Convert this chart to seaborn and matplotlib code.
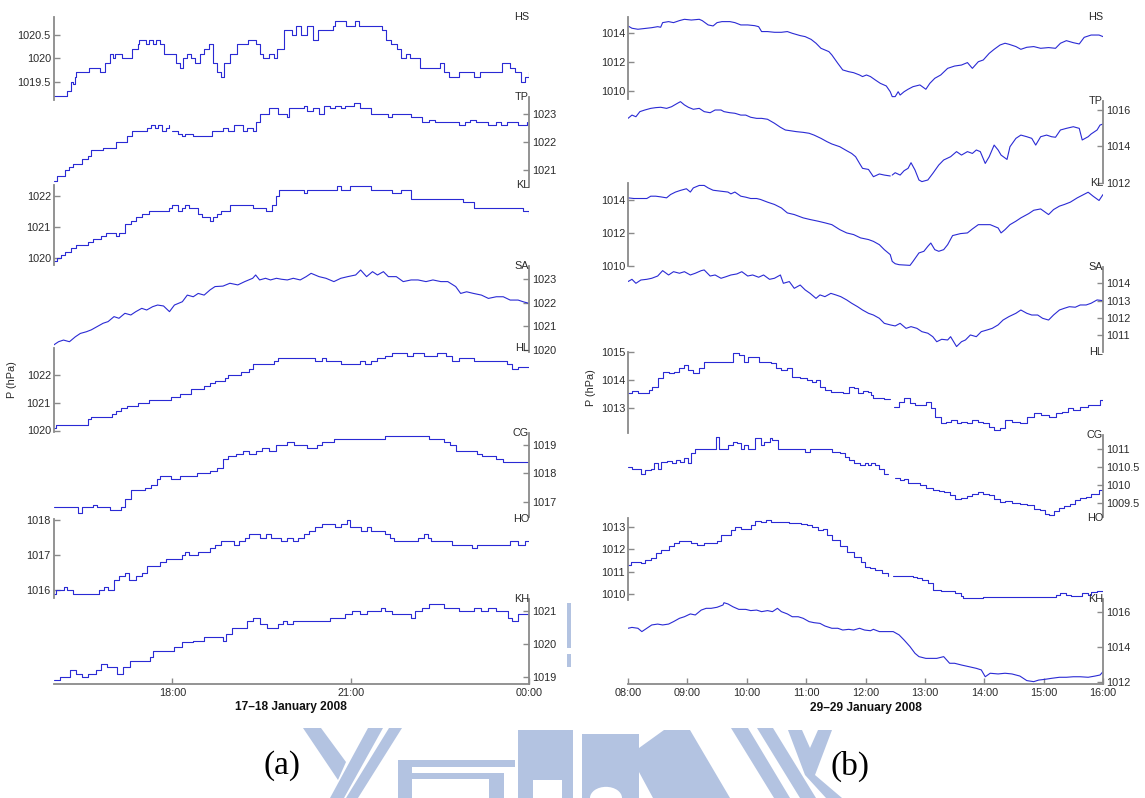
import matplotlib
matplotlib.use("Agg")
import numpy as np
import matplotlib.pyplot as plt
from matplotlib.patches import Polygon, Circle
import seaborn as sns

# ---------------------------------------------------------------------------
# Station pressure records (hPa).  Times are minutes after the start of each
# 8-hour window: (a) 16:00 17 Jan -> 00:00 18 Jan, (b) 08:00 -> 16:00 29 Jan.
# ---------------------------------------------------------------------------
STATIONS = ["HS", "TP", "KL", "SA", "HL", "CG", "HO", "KH"]

# ----- (a) 17-18 January 2008 -----
a_HS_t = [0,12,14,18,20,22,23,35,36,46,47,52,57,60,62,66,69,77,79,85,86,91,93,96,100,103,107,111,120,124,128,131,135,139,143,148,152,157,161,165,169,172,178,185,193,196,204,208,211,217,223,226,233,241,245,250,256,262,267,275,278,282,284,293,295,302,304,308,329,332,336,341,347,351,356,360,364,370,375,385,390,394,399,409,416,424,431,439,446,453,461,466,472,476,480]
a_HS_p = [1019.2,1019.2,1019.3,1019.5,1019.45,1019.6,1019.7,1019.7,1019.8,1019.8,1019.7,1019.9,1020.1,1020.0,1020.1,1020.1,1020.0,1020.0,1020.2,1020.3,1020.4,1020.4,1020.3,1020.4,1020.3,1020.4,1020.3,1020.1,1020.1,1019.9,1019.8,1020.0,1020.1,1020.0,1019.9,1020.1,1020.2,1020.3,1019.9,1019.7,1019.6,1019.9,1020.1,1020.3,1020.3,1020.4,1020.3,1020.1,1020.0,1020.1,1020.0,1020.2,1020.6,1020.5,1020.7,1020.5,1020.7,1020.4,1020.6,1020.6,1020.6,1020.7,1020.8,1020.8,1020.7,1020.7,1020.8,1020.7,1020.7,1020.6,1020.4,1020.3,1020.2,1020.0,1020.1,1020.0,1020.0,1019.8,1019.8,1019.8,1019.9,1019.7,1019.6,1019.7,1019.7,1019.6,1019.7,1019.7,1019.7,1019.9,1019.8,1019.7,1019.5,1019.6,1019.7]

a_TP_t = [0,3,7,12,16,20,25,29,35,38,44,50,55,59,63,68,74,79,85,91,94,98,102,105,109,113,117,120,126,130,133,141,145,156,160,167,171,176,182,187,191,195,201,204,208,212,217,221,227,232,236,238,245,253,256,262,268,273,279,284,290,294,299,303,309,314,320,324,329,335,338,342,350,357,361,368,372,379,385,392,398,404,409,415,420,426,432,439,447,452,458,463,469,474,478]
a_TP_p = [1020.6,1020.8,1020.8,1021.0,1021.1,1021.2,1021.2,1021.4,1021.5,1021.7,1021.7,1021.8,1021.8,1021.8,1022.0,1022.0,1022.2,1022.4,1022.4,1022.4,1022.5,1022.6,1022.5,1022.6,1022.4,1022.5,1022.6,1022.4,1022.3,1022.2,1022.3,1022.2,1022.2,1022.2,1022.4,1022.4,1022.5,1022.4,1022.6,1022.6,1022.4,1022.5,1022.4,1022.7,1023.0,1023.0,1023.2,1023.2,1023.0,1023.0,1022.9,1023.2,1023.2,1023.3,1023.1,1023.2,1023.0,1023.3,1023.2,1023.3,1023.2,1023.3,1023.3,1023.4,1023.2,1023.2,1023.0,1023.0,1023.0,1023.0,1022.9,1023.0,1023.0,1023.0,1022.9,1022.9,1022.7,1022.8,1022.7,1022.7,1022.7,1022.7,1022.6,1022.7,1022.8,1022.7,1022.7,1022.6,1022.7,1022.6,1022.7,1022.7,1022.6,1022.6,1022.7]

a_KL_t = [0,3,7,12,18,23,29,35,40,48,53,59,63,66,72,78,83,89,96,104,111,117,120,126,130,133,137,143,146,150,156,158,161,165,169,174,178,186,193,201,208,214,217,221,225,228,242,253,256,268,283,286,290,294,299,307,312,320,324,331,338,342,351,357,361,376,383,391,398,409,413,420,424,443,458,463,469,474,480]
a_KL_p = [1019.9,1020.0,1020.1,1020.2,1020.3,1020.4,1020.4,1020.5,1020.6,1020.7,1020.8,1020.8,1020.7,1020.8,1021.1,1021.2,1021.3,1021.4,1021.5,1021.5,1021.5,1021.6,1021.7,1021.5,1021.6,1021.7,1021.6,1021.6,1021.4,1021.3,1021.3,1021.2,1021.3,1021.4,1021.5,1021.5,1021.7,1021.7,1021.7,1021.6,1021.6,1021.5,1021.5,1021.7,1022.0,1022.2,1022.2,1022.1,1022.2,1022.2,1022.2,1022.3,1022.2,1022.2,1022.3,1022.3,1022.3,1022.2,1022.2,1022.2,1022.2,1022.1,1022.2,1022.2,1021.9,1021.9,1021.9,1021.9,1021.9,1021.9,1021.8,1021.8,1021.6,1021.6,1021.6,1021.6,1021.6,1021.5,1021.4]

a_SA_t = [0,5,10,16,22,27,33,38,44,50,55,61,66,72,78,83,89,94,100,105,111,117,122,130,135,141,146,152,158,163,171,178,186,193,201,204,208,214,219,225,230,236,242,249,255,260,268,275,283,290,297,305,310,316,322,327,333,338,346,353,361,368,376,383,391,398,406,411,417,424,432,439,447,454,461,469,474,480]
a_SA_p = [1020.21,1020.35,1020.42,1020.35,1020.56,1020.70,1020.77,1020.85,1020.99,1021.13,1021.20,1021.41,1021.34,1021.55,1021.48,1021.62,1021.76,1021.69,1021.83,1021.90,1021.86,1021.62,1021.90,1022.04,1022.32,1022.25,1022.39,1022.32,1022.54,1022.68,1022.70,1022.82,1022.75,1022.89,1023.03,1023.17,1022.96,1023.03,1022.96,1023.03,1022.99,1022.96,1023.03,1022.96,1023.10,1023.24,1023.10,1023.03,1022.89,1023.03,1023.10,1023.17,1023.38,1023.10,1023.31,1023.17,1023.31,1023.10,1023.10,1022.89,1022.96,1022.96,1022.89,1022.96,1022.89,1022.89,1022.68,1022.39,1022.46,1022.39,1022.32,1022.18,1022.25,1022.25,1022.11,1022.11,1022.04,1021.97]

a_HL_t = [0,2,31,35,38,42,55,59,63,68,74,79,85,91,96,111,119,124,128,133,139,143,148,152,158,163,169,173,176,182,189,197,201,208,215,223,227,242,245,256,264,271,275,283,290,301,309,314,320,327,335,342,350,357,363,368,374,381,387,392,396,402,409,417,424,432,439,447,454,458,463,469,480]
a_HL_p = [1020.1,1020.2,1020.2,1020.4,1020.5,1020.5,1020.5,1020.6,1020.7,1020.8,1020.9,1020.9,1021.0,1021.0,1021.1,1021.1,1021.2,1021.2,1021.3,1021.3,1021.5,1021.5,1021.5,1021.6,1021.7,1021.8,1021.8,1021.9,1022.0,1022.0,1022.1,1022.2,1022.4,1022.4,1022.4,1022.5,1022.6,1022.6,1022.6,1022.6,1022.5,1022.6,1022.5,1022.5,1022.4,1022.4,1022.5,1022.4,1022.5,1022.6,1022.7,1022.8,1022.8,1022.7,1022.8,1022.8,1022.7,1022.7,1022.8,1022.8,1022.7,1022.5,1022.6,1022.6,1022.5,1022.5,1022.5,1022.5,1022.5,1022.4,1022.2,1022.3,1022.3]

a_CG_t = [0,12,14,18,22,25,29,35,40,44,51,57,63,68,72,78,83,87,92,98,104,107,113,119,122,128,133,139,145,152,158,161,165,171,176,184,191,197,204,210,214,217,225,230,236,243,251,256,262,266,271,277,283,290,299,305,312,320,327,335,342,350,357,365,372,379,387,394,400,406,413,420,428,433,439,447,454,461,469,476,480]
a_CG_p = [1016.8,1016.8,1016.8,1016.8,1016.8,1016.6,1016.8,1016.8,1016.9,1016.8,1016.8,1016.7,1016.7,1016.8,1017.1,1017.4,1017.4,1017.4,1017.5,1017.6,1017.8,1017.9,1017.9,1017.8,1017.8,1017.9,1017.9,1017.9,1018.0,1018.0,1018.1,1018.1,1018.2,1018.5,1018.6,1018.7,1018.8,1018.7,1018.8,1018.9,1018.9,1018.8,1019.0,1019.0,1019.1,1019.0,1019.0,1018.9,1018.9,1019.0,1019.1,1019.1,1019.2,1019.2,1019.2,1019.2,1019.2,1019.2,1019.2,1019.3,1019.3,1019.3,1019.3,1019.3,1019.3,1019.2,1019.2,1019.1,1019.0,1018.8,1018.8,1018.8,1018.7,1018.6,1018.6,1018.5,1018.4,1018.4,1018.4,1018.4,1018.3]

a_HO_t = [0,2,7,10,14,20,25,31,37,42,46,51,55,61,66,72,76,79,83,89,94,100,107,113,119,124,130,133,137,141,146,152,158,163,169,178,182,187,193,197,204,208,214,219,225,230,236,242,247,253,258,264,271,279,284,290,296,299,305,310,316,320,324,329,335,340,344,350,357,365,368,374,378,381,387,394,402,407,415,422,428,435,443,450,456,461,469,476,480]
a_HO_p = [1015.9,1016.0,1016.0,1016.1,1016.0,1015.9,1015.9,1015.9,1015.9,1015.9,1016.0,1016.1,1016.0,1016.3,1016.4,1016.5,1016.3,1016.3,1016.4,1016.5,1016.7,1016.7,1016.8,1016.9,1016.9,1016.9,1017.0,1017.1,1017.0,1017.0,1017.1,1017.1,1017.2,1017.3,1017.4,1017.4,1017.3,1017.4,1017.5,1017.6,1017.6,1017.5,1017.6,1017.5,1017.5,1017.4,1017.5,1017.4,1017.5,1017.6,1017.7,1017.8,1017.9,1017.9,1017.8,1017.9,1018.0,1017.8,1017.8,1017.7,1017.8,1017.7,1017.7,1017.7,1017.6,1017.5,1017.4,1017.4,1017.4,1017.4,1017.5,1017.6,1017.5,1017.4,1017.4,1017.4,1017.3,1017.3,1017.3,1017.2,1017.3,1017.3,1017.3,1017.3,1017.3,1017.4,1017.3,1017.4,1017.4]

a_KH_t = [0,6,12,17,23,29,35,43,48,54,60,64,70,77,85,91,97,100,111,122,130,141,152,163,171,174,180,187,195,201,208,215,221,227,232,236,242,249,256,264,271,279,286,294,301,309,316,324,331,335,342,350,357,361,365,372,379,387,394,402,409,417,424,432,439,447,454,459,463,469,474,480]
a_KH_p = [1018.9,1019.0,1019.0,1019.2,1019.1,1019.0,1019.1,1019.2,1019.4,1019.3,1019.3,1019.1,1019.3,1019.5,1019.5,1019.5,1019.6,1019.8,1019.8,1019.9,1020.05,1020.1,1020.2,1020.2,1020.1,1020.3,1020.5,1020.5,1020.7,1020.8,1020.6,1020.5,1020.5,1020.6,1020.7,1020.6,1020.7,1020.7,1020.7,1020.7,1020.7,1020.8,1020.8,1020.9,1021.0,1020.9,1021.0,1021.0,1021.1,1021.0,1020.9,1020.9,1020.9,1020.8,1021.0,1021.1,1021.2,1021.2,1021.1,1021.1,1021.0,1021.0,1021.1,1021.0,1021.1,1021.0,1021.0,1020.8,1020.7,1020.9,1020.9,1020.9]

# ----- (b) 29 January 2008 -----
b_HS_t = [0,4,10,19,24,30,33,35,41,46,52,57,64,72,75,81,86,90,95,103,108,114,121,128,132,135,141,148,155,161,166,174,179,185,190,195,203,206,212,217,223,228,234,237,241,245,250,255,261,265,267,270,273,275,279,283,288,295,301,305,310,316,323,330,337,343,348,354,359,365,370,376,381,385,392,397,403,410,417,425,432,437,443,450,456,461,468,476,480]
b_HS_p = [1014.51,1014.35,1014.28,1014.35,1014.39,1014.46,1014.42,1014.74,1014.81,1014.74,1014.88,1014.97,1014.92,1014.97,1014.88,1014.58,1014.51,1014.74,1014.81,1014.81,1014.74,1014.58,1014.58,1014.53,1014.46,1014.12,1014.12,1014.07,1014.07,1014.12,1014.0,1013.84,1013.77,1013.58,1013.31,1012.96,1012.73,1012.5,1011.92,1011.46,1011.34,1011.27,1011.11,1011.0,1011.11,1011.0,1010.76,1010.53,1010.35,1009.95,1009.61,1009.61,1009.95,1009.72,1009.95,1010.12,1010.3,1010.42,1010.12,1010.53,1010.88,1011.11,1011.57,1011.73,1011.8,1011.97,1011.57,1012.03,1012.15,1012.61,1012.89,1013.19,1013.31,1013.24,1013.08,1012.89,1013.03,1013.08,1012.96,1013.01,1012.96,1013.31,1013.49,1013.35,1013.26,1013.72,1013.88,1013.88,1013.77]

b_TP_t = [0,4,8,12,17,23,28,33,39,44,50,53,57,61,66,72,77,83,88,94,97,103,108,114,119,124,130,135,141,148,154,159,164,170,177,183,188,195,201,206,214,221,226,230,234,237,243,248,254,259,265,267,270,275,279,283,286,290,294,297,303,308,314,319,326,332,337,343,348,352,356,361,365,370,374,377,383,386,392,397,403,408,412,417,423,428,432,437,443,450,456,459,465,468,474,477,480]
b_TP_p = [1015.54,1015.72,1015.63,1015.91,1016.0,1016.09,1016.13,1016.15,1016.09,1016.18,1016.37,1016.46,1016.28,1016.15,1016.04,1016.09,1015.91,1015.85,1016.0,1016.0,1015.91,1015.85,1015.82,1015.72,1015.72,1015.6,1015.54,1015.54,1015.49,1015.27,1015.05,1014.9,1014.86,1014.81,1014.77,1014.72,1014.62,1014.44,1014.26,1014.13,1013.98,1013.76,1013.61,1013.43,1013.06,1012.79,1012.73,1012.33,1012.48,1012.42,1012.37,1012.42,1012.55,1012.42,1012.66,1012.79,1013.1,1012.7,1012.15,1012.06,1012.15,1012.51,1012.97,1013.25,1013.43,1013.71,1013.52,1013.71,1013.61,1013.8,1013.71,1013.06,1013.43,1014.07,1013.8,1013.52,1013.28,1013.98,1014.44,1014.62,1014.53,1014.44,1014.07,1014.53,1014.62,1014.53,1014.5,1014.9,1014.99,1015.08,1014.99,1014.35,1014.53,1014.68,1014.9,1015.17,1015.23]

b_KL_t = [0,6,19,23,28,33,39,43,48,53,59,63,66,72,77,81,86,94,101,104,108,114,119,124,130,134,141,148,155,161,168,177,184,192,199,206,214,221,228,235,243,248,254,259,265,267,270,274,285,288,294,299,303,306,310,314,319,323,328,336,343,348,354,366,374,377,381,386,392,397,405,410,417,425,430,436,441,447,454,465,470,476,480]
b_KL_p = [1014.1,1014.06,1014.06,1014.2,1014.2,1014.16,1014.1,1014.3,1014.45,1014.55,1014.65,1014.45,1014.7,1014.85,1014.85,1014.7,1014.56,1014.5,1014.45,1014.34,1014.45,1014.2,1014.14,1014.06,1014.06,1014.0,1013.84,1013.7,1013.49,1013.19,1013.09,1012.89,1012.79,1012.69,1012.59,1012.48,1012.18,1011.98,1011.88,1011.68,1011.58,1011.47,1011.27,1010.97,1010.67,1010.26,1010.12,1010.06,1010.02,1010.26,1010.77,1010.87,1011.17,1011.37,1010.97,1010.87,1010.97,1011.27,1011.82,1011.94,1011.98,1012.22,1012.48,1012.48,1012.28,1011.98,1012.18,1012.48,1012.69,1012.89,1013.15,1013.35,1013.43,1013.09,1013.39,1013.6,1013.7,1013.84,1014.1,1014.44,1014.2,1013.94,1014.3]

b_SA_t = [0,4,8,13,19,24,30,35,41,46,52,57,63,68,74,77,83,88,94,99,104,110,115,121,126,132,137,143,148,154,157,163,168,174,179,184,190,194,199,205,210,215,221,226,232,237,243,248,254,259,265,270,275,281,286,292,297,303,308,312,317,323,326,332,337,341,346,352,357,363,368,374,379,385,392,397,403,408,414,419,425,430,436,441,446,452,457,463,468,474,480]
b_SA_p = [1014.1,1014.23,1014.0,1014.19,1014.23,1014.29,1014.42,1014.73,1014.48,1014.67,1014.58,1014.67,1014.48,1014.58,1014.73,1014.77,1014.42,1014.48,1014.29,1014.38,1014.48,1014.54,1014.67,1014.42,1014.48,1014.35,1014.48,1014.23,1014.29,1014.48,1014.0,1014.1,1013.71,1013.9,1013.62,1013.42,1013.13,1013.33,1013.23,1013.42,1013.33,1013.23,1013.04,1012.85,1012.65,1012.46,1012.27,1012.17,1011.98,1011.69,1011.6,1011.54,1011.69,1011.4,1011.5,1011.4,1011.21,1011.12,1010.92,1010.63,1010.77,1010.73,1010.92,1010.35,1010.63,1010.73,1011.02,1010.92,1011.21,1011.31,1011.4,1011.6,1011.88,1012.08,1012.27,1012.46,1012.27,1012.17,1012.17,1011.98,1011.88,1012.17,1012.46,1012.56,1012.65,1012.62,1012.75,1012.75,1012.85,1013.04,1013.0]

b_HL_t = [0,4,10,15,21,24,30,35,41,46,52,57,61,66,72,77,97,103,106,112,117,121,126,132,139,144,150,155,161,166,174,181,186,190,194,199,205,212,217,223,228,232,237,243,246,248,259,265,269,274,279,285,290,295,301,306,310,316,321,326,332,337,343,348,354,359,365,370,376,381,388,396,403,410,417,425,432,439,445,450,457,465,472,477,480]
b_HL_p = [1013.55,1013.62,1013.53,1013.53,1013.65,1013.76,1014.06,1014.29,1014.24,1014.29,1014.41,1014.53,1014.35,1014.24,1014.41,1014.65,1014.65,1014.65,1014.94,1014.88,1014.65,1014.82,1014.82,1014.65,1014.62,1014.59,1014.41,1014.35,1014.41,1014.12,1014.06,1014.0,1013.94,1014.0,1013.76,1013.65,1013.59,1013.59,1013.55,1013.76,1013.71,1013.53,1013.62,1013.59,1013.47,1013.35,1013.32,1013.32,1013.06,1013.24,1013.35,1013.18,1013.12,1013.12,1013.24,1013.0,1012.71,1012.47,1012.53,1012.59,1012.47,1012.53,1012.47,1012.59,1012.53,1012.47,1012.35,1012.24,1012.29,1012.59,1012.53,1012.47,1012.71,1012.82,1012.76,1012.71,1012.82,1012.88,1013.0,1012.94,1013.06,1013.12,1013.12,1013.29,1013.24]

b_CG_t = [0,4,10,13,17,23,26,30,33,39,44,48,53,57,61,64,68,75,83,87,89,92,97,101,106,110,114,117,121,128,134,137,143,146,152,163,177,179,184,192,203,206,214,219,223,228,234,239,243,246,250,254,259,263,270,275,279,283,290,295,301,308,314,319,325,330,337,343,348,354,359,365,370,376,381,388,396,403,410,416,421,425,430,436,441,447,452,457,463,468,476,480]
b_CG_p = [1010.51,1010.46,1010.44,1010.32,1010.42,1010.46,1010.6,1010.44,1010.65,1010.68,1010.62,1010.69,1010.65,1010.74,1010.62,1010.9,1010.99,1010.99,1010.99,1010.99,1011.32,1010.99,1010.99,1011.11,1011.2,1011.16,1010.99,1011.11,1010.99,1011.3,1011.11,1011.2,1011.3,1011.25,1011.0,1011.0,1011.0,1010.93,1011.0,1011.0,1011.0,1010.93,1010.88,1010.79,1010.69,1010.6,1010.56,1010.6,1010.56,1010.6,1010.56,1010.46,1010.32,1010.31,1010.19,1010.14,1010.16,1010.05,1010.07,1010.0,1009.91,1009.86,1009.84,1009.81,1009.72,1009.63,1009.66,1009.69,1009.77,1009.81,1009.77,1009.72,1009.63,1009.54,1009.56,1009.51,1009.49,1009.44,1009.35,1009.31,1009.21,1009.19,1009.29,1009.38,1009.42,1009.49,1009.58,1009.66,1009.68,1009.75,1009.86,1010.05]

b_HO_t = [0,3,6,13,17,23,28,33,41,46,52,57,64,70,77,84,90,94,97,101,104,108,114,121,124,128,134,139,144,150,159,163,170,175,181,186,192,197,201,206,214,221,228,235,239,245,250,257,263,268,279,288,292,297,303,308,316,323,330,336,339,345,352,359,366,388,410,425,432,437,443,448,456,459,465,468,474,480]
b_HO_p = [1011.29,1011.44,1011.44,1011.4,1011.51,1011.59,1011.81,1011.96,1012.14,1012.26,1012.38,1012.38,1012.29,1012.18,1012.26,1012.26,1012.38,1012.63,1012.63,1012.63,1012.85,1013.0,1012.88,1012.88,1013.07,1013.27,1013.22,1013.3,1013.22,1013.22,1013.19,1013.15,1013.15,1013.12,1013.07,1013.0,1012.85,1012.88,1012.63,1012.41,1012.14,1011.89,1011.66,1011.44,1011.22,1011.14,1011.07,1010.92,1010.8,1010.8,1010.8,1010.77,1010.7,1010.62,1010.47,1010.18,1010.15,1010.15,1010.03,1009.91,1009.81,1009.81,1009.81,1009.88,1009.88,1009.88,1009.88,1009.88,1009.95,1010.06,1009.95,1009.91,1009.92,1010.03,1009.95,1010.1,1010.15,1010.1]

b_KH_t = [0,4,10,14,19,24,30,35,41,46,52,57,63,68,74,79,84,90,96,97,101,106,112,119,124,130,135,141,146,151,155,161,166,172,177,183,188,194,199,206,212,217,223,228,234,239,245,248,254,261,268,274,279,285,290,294,301,312,319,325,330,337,345,352,357,361,366,374,381,388,396,403,410,415,421,428,436,443,450,457,465,472,477,480]
b_KH_p = [1015.07,1015.12,1015.07,1014.88,1015.07,1015.26,1015.31,1015.26,1015.31,1015.45,1015.64,1015.73,1015.89,1015.83,1016.11,1016.21,1016.21,1016.27,1016.4,1016.53,1016.46,1016.3,1016.15,1016.15,1016.08,1016.11,1016.02,1016.08,1016.02,1016.21,1016.02,1015.89,1015.73,1015.73,1015.64,1015.45,1015.39,1015.35,1015.2,1015.07,1015.07,1014.97,1015.01,1014.97,1015.07,1014.97,1014.93,1015.01,1014.88,1014.88,1014.88,1014.69,1014.4,1014.02,1013.64,1013.45,1013.35,1013.35,1013.45,1013.07,1013.07,1012.97,1012.87,1012.78,1012.69,1012.3,1012.5,1012.46,1012.5,1012.46,1012.34,1012.08,1012.02,1012.11,1012.15,1012.21,1012.27,1012.27,1012.3,1012.3,1012.27,1012.34,1012.4,1012.59]

# short outages in the records (minute at which the trace breaks)
a_breaks = {"TP": 118.5}
b_breaks = {"TP": 266, "HL": 267, "CG": 266, "HO": 265.5}

# y tick values of every station axis
a_ticks = {"HS": [1019.5, 1020, 1020.5], "TP": [1021, 1022, 1023], "KL": [1020, 1021, 1022],
           "SA": [1020, 1021, 1022, 1023], "HL": [1020, 1021, 1022], "CG": [1017, 1018, 1019],
           "HO": [1016, 1017, 1018], "KH": [1019, 1020, 1021]}
b_ticks = {"HS": [1010, 1012, 1014], "TP": [1012, 1014, 1016], "KL": [1010, 1012, 1014],
           "SA": [1011, 1012, 1013, 1014], "HL": [1013, 1014, 1015], "CG": [1009.5, 1010, 1010.5, 1011],
           "HO": [1010, 1011, 1012, 1013], "KH": [1012, 1014, 1016]}

a_xticks = [120, 300, 480]
a_xticklabels = ["18:00", "21:00", "00:00"]
b_xticks = [0, 60, 120, 180, 240, 300, 360, 420, 480]
b_xticklabels = ["08:00", "09:00", "10:00", "11:00", "12:00", "13:00", "14:00", "15:00", "16:00"]

# ---------------------------------------------------------------------------
# Layout (figure pixels): per station axis -> top, bottom, and the pixel rows of
# the lowest and highest tick, which fix the vertical scale of that axis.
# ---------------------------------------------------------------------------
W, H = 1145, 798
a_box = (53.6, 529.0)
b_box = (628.0, 1103.0)
a_layout = {"HS": (17, 100, 81.7, 35.0), "TP": (97, 187, 170.0, 114.0),
            "KL": (185, 265, 257.7, 195.7), "SA": (266, 352, 350.0, 279.0),
            "HL": (348, 432, 430.5, 375.0), "CG": (433, 517, 501.7, 445.0),
            "HO": (519, 598, 590.0, 520.0), "KH": (599, 684, 677.0, 611.0)}
b_layout = {"HS": (16.7, 99.3, 91.0, 33.3), "TP": (101, 183, 182.7, 110.0),
            "KL": (183, 266, 265.7, 199.5), "SA": (267, 352, 335.3, 283.3),
            "HL": (351.7, 433, 408.3, 351.7), "CG": (435, 517, 503.3, 449.0),
            "HO": (518, 600, 594.0, 526.7), "KH": (599, 684, 682.0, 612.0)}
right_side = {"TP", "SA", "CG", "KH"}
a_steps = {"HS", "TP", "KL", "HL", "CG", "HO", "KH"}
b_steps = {"HL", "CG", "HO"}

BLUE = "#2a2ad4"
GREY = "#8a8a8a"
TXT = "#2a2a2a"
FS = 7.8

sns.set_theme(style="white")
plt.rcParams["font.family"] = ["Liberation Sans", "DejaVu Sans"]

fig = plt.figure(figsize=(W / 100, H / 100), dpi=100)


def px_rect(x0, x1, top, bottom):
    return [x0 / W, 1 - bottom / H, (x1 - x0) / W, (bottom - top) / H]


def draw_panel(prefix, box, layout, ticks, steps, breaks, xticks, xticklabels):
    g = globals()
    for name in STATIONS:
        top, bottom, p_lo, p_hi = layout[name]
        tk = ticks[name]
        hpa_per_px = (tk[-1] - tk[0]) / (p_lo - p_hi)
        y0 = tk[0] - (bottom - p_lo) * hpa_per_px
        y1 = tk[-1] + (p_hi - top) * hpa_per_px

        ax = fig.add_axes(px_rect(box[0], box[1], top, bottom))
        ax.patch.set_alpha(0)
        t = g[f"{prefix}_{name}_t"]
        p = g[f"{prefix}_{name}_p"]
        n = min(len(t), len(p))
        t = np.asarray(t[:n], float)
        p = np.asarray(p[:n], float)
        pieces = [(t, p)]
        if name in breaks:
            k = int(np.searchsorted(t, breaks[name]))
            pieces = [(t[:k], p[:k]), (t[k:], p[k:])]
        for tt, pp in pieces:
            sns.lineplot(x=tt, y=pp, ax=ax, color=BLUE, linewidth=0.8,
                         estimator=None, sort=False,
                         drawstyle="steps-post" if name in steps else "default")
        ax.set_xlim(0, 480)
        ax.set_ylim(y0, y1)
        ax.set_xlabel("")
        ax.set_ylabel("")

        for s in ax.spines.values():
            s.set_visible(False)
        side = "right" if name in right_side else "left"
        ax.spines[side].set_visible(True)
        ax.spines[side].set_color(GREY)
        ax.spines[side].set_linewidth(1.3)
        if side == "right":
            ax.yaxis.tick_right()
        else:
            ax.yaxis.tick_left()
        ax.set_yticks(tk)
        ax.set_yticklabels([f"{v:g}" for v in tk])
        ax.tick_params(axis="y", direction="in", length=4, width=1, color=GREY,
                       labelsize=FS, labelcolor=TXT, pad=2)

        if name == "KH":
            ax.spines["bottom"].set_visible(True)
            ax.spines["bottom"].set_color(GREY)
            ax.spines["bottom"].set_linewidth(1.3)
            ax.set_xticks(xticks)
            ax.set_xticklabels(xticklabels)
            ax.tick_params(axis="x", direction="in", length=4, width=1, color=GREY,
                           labelsize=FS, labelcolor=TXT, pad=3, bottom=True)
        else:
            ax.set_xticks([])

        ax.text(1.0, 1.0, name, transform=ax.transAxes, ha="right", va="center",
                fontsize=FS, color=TXT)


draw_panel("a", a_box, a_layout, a_ticks, a_steps, a_breaks, a_xticks, a_xticklabels)
draw_panel("b", b_box, b_layout, b_ticks, b_steps, b_breaks, b_xticks, b_xticklabels)

# axis titles
fig.text(sum(a_box) / 2 / W, 1 - 707 / H, "17\u201318 January 2008", ha="center", va="center",
         fontsize=8.6, fontweight="bold", color="#111")
fig.text(sum(b_box) / 2 / W, 1 - 708 / H, "29\u201329 January 2008", ha="center", va="center",
         fontsize=8.6, fontweight="bold", color="#111")
fig.text(12 / W, 1 - 380 / H, "P (hPa)", rotation=90, ha="center", va="center",
         fontsize=FS, color=TXT)
fig.text(591 / W, 1 - 388 / H, "P (hPa)", rotation=90, ha="center", va="center",
         fontsize=FS, color=TXT)

# background emblem in pale blue
WM = "#b3c3e1"


def fpoly(pts, color=WM, z=-2):
    fig.patches.append(Polygon([(x / W, 1 - y / H) for x, y in pts], closed=True,
                               transform=fig.transFigure, facecolor=color,
                               edgecolor="none", zorder=z))


def frect(x0, y0, x1, y1, color=WM, z=-2):
    fpoly([(x0, y0), (x1, y0), (x1, y1), (x0, y1)], color, z)


# left "Y" strokes
fpoly([(303, 728), (321, 728), (346, 762), (338, 780)])
fpoly([(368, 728), (383, 728), (344, 798), (330, 798)])
fpoly([(389, 728), (402, 728), (358, 798), (346, 798)])
# bars
frect(398, 760, 515, 767)
frect(412, 773, 489, 779)
frect(398, 760, 412, 798)
frect(489, 773, 504, 798)
# blocks
fpoly([(518, 730), (573, 730), (573, 798), (562, 798), (562, 780), (533, 780), (533, 798), (518, 798)])
frect(582, 734, 639, 798)
fig.patches.append(Circle((606 / W, 1 - 798 / H), 16 / W, transform=fig.transFigure,
                          facecolor="white", edgecolor="none", zorder=-1.5))
fpoly([(639, 748), (664, 730), (690, 730), (730, 798), (653, 798), (639, 772)])
# right "Y" strokes
fpoly([(731, 728), (748, 728), (790, 798), (774, 798)])
fpoly([(757, 728), (773, 728), (816, 798), (800, 798)])
fpoly([(788, 730), (802, 730), (810, 748), (818, 730), (832, 730), (815, 775), (805, 775)])
fpoly([(805, 775), (815, 775), (842, 798), (826, 798)])
# small bars beside panel (a)
frect(567, 603, 571, 648)
frect(567, 654, 571, 667)

fig.text(282 / W, 1 - 766 / H, "(a)", ha="center", va="center", fontsize=24,
         family=["Liberation Serif", "DejaVu Serif"], color="black")
fig.text(850 / W, 1 - 766 / H, "(b)", ha="center", va="center", fontsize=24,
         family=["Liberation Serif", "DejaVu Serif"], color="black")

fig.savefig("out.png", dpi=100, facecolor="white")
